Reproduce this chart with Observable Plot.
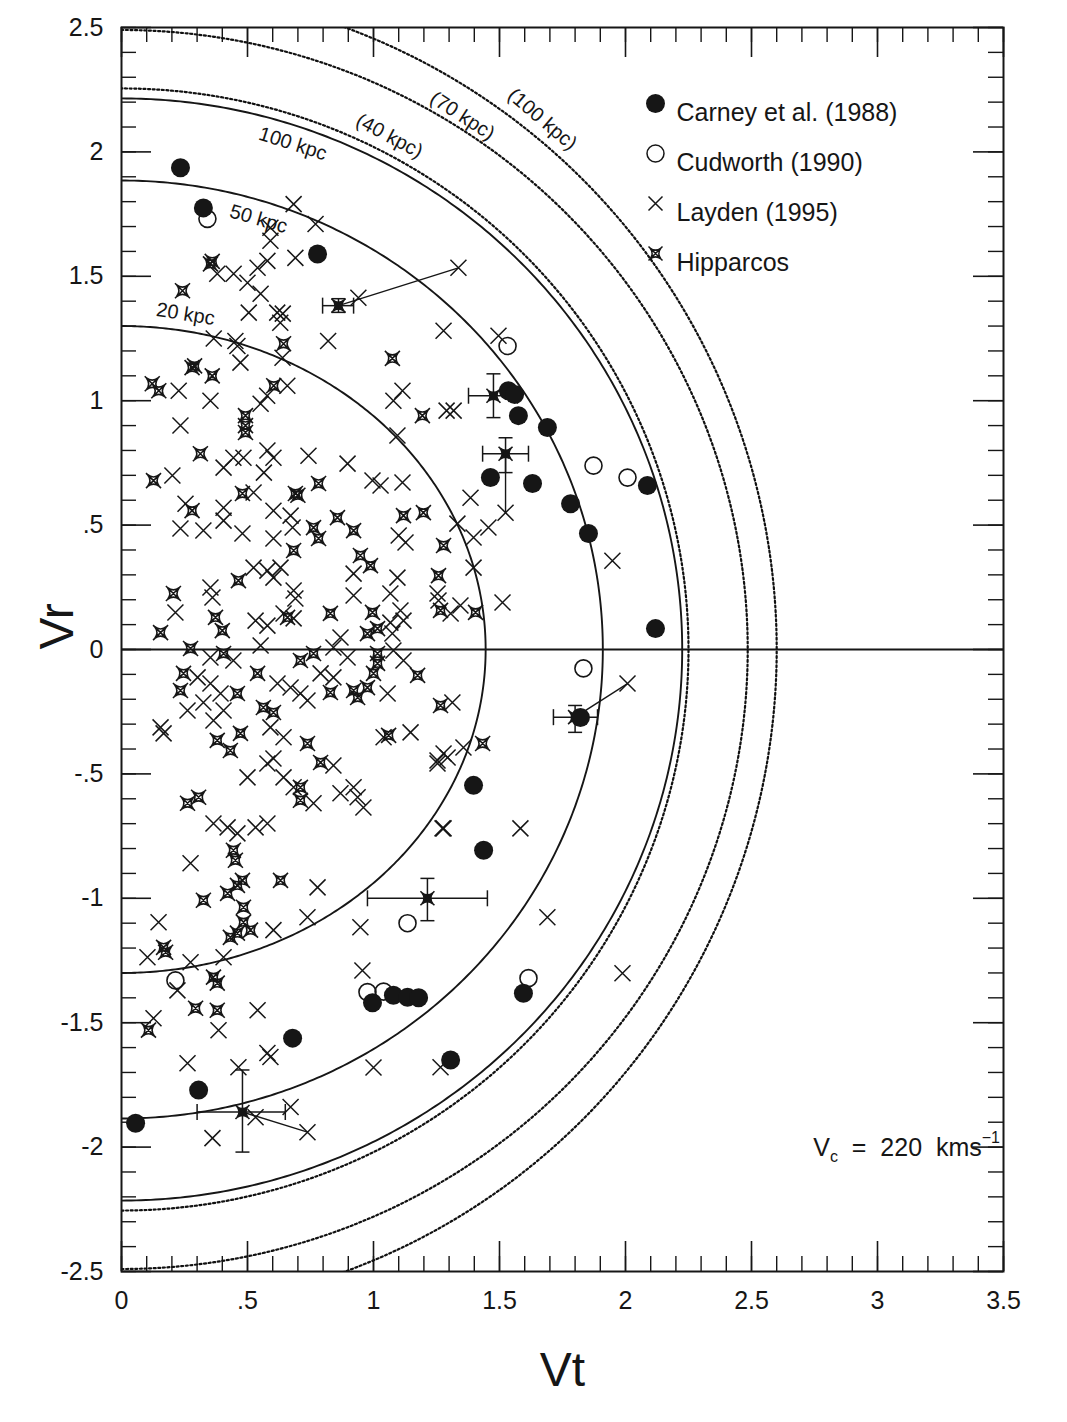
<!DOCTYPE html>
<html><head><meta charset="utf-8">
<script src="https://cdn.jsdelivr.net/npm/d3@7"></script>
<script src="https://cdn.jsdelivr.net/npm/@observablehq/plot@0.6"></script>
<style>
body{margin:0;background:#fff;}
#chart{width:1067px;height:1422px;}
#chart svg{display:block;}
</style></head><body><div id="chart"></div>
<script>
// ---------- data (Vt, Vr) ----------
const carney = [[0.234,1.936],[0.325,1.775],[0.778,1.59],[1.535,1.04],[1.56,1.025],[1.575,0.94],[1.69,0.892],[1.464,0.691],[1.631,0.667],[1.782,0.586],[1.853,0.466],[2.087,0.659],[2.119,0.084],[1.821,-0.273],[1.397,-0.546],[1.437,-0.807],[0.996,-1.42],[1.079,-1.39],[1.135,-1.398],[1.179,-1.40],[1.595,-1.382],[1.306,-1.65],[0.679,-1.562],[0.306,-1.771],[0.056,-1.904]];
const cudworth = [[0.341,1.731],[1.532,1.22],[1.873,0.739],[2.008,0.691],[1.833,-0.076],[1.135,-1.10],[0.214,-1.33],[0.976,-1.377],[1.04,-1.375],[1.615,-1.321]];
const layden = [[0.683,1.79],[0.77,1.71],[0.591,1.695],[0.591,1.643],[0.579,1.562],[0.54,1.534],[0.69,1.574],[0.38,1.51],[0.445,1.51],[0.5,1.474],[0.552,1.43],[0.505,1.354],[0.618,1.354],[0.64,1.35],[0.63,1.313],[0.94,1.414],[1.337,1.534],[1.278,1.281],[0.82,1.24],[0.366,1.25],[0.452,1.24],
[0.46,1.22],[0.472,1.153],[0.639,1.173],[0.227,1.04],[0.353,1.0],[0.234,0.9],[0.658,1.06],[0.578,1.02],[0.552,0.988],[1.079,1.0],[1.115,1.04],[1.29,0.96],[1.095,0.86],[0.405,0.731],[0.444,0.771],[0.484,0.771],[0.579,0.8],[0.603,0.771],[0.565,0.711],[0.742,0.779],[0.897,0.747],[0.202,0.699],[0.996,0.679],[1.028,0.659],[1.115,0.671],[0.524,0.631],[0.254,0.586],[0.234,0.486],[0.325,0.478],[0.405,0.57],[0.405,0.518],[0.48,0.466],[0.603,0.558],[0.603,0.446],[0.671,0.538],[0.679,0.49],[1.1,0.458],[1.127,0.43],[0.921,0.305],[1.095,0.289],[0.524,0.329],[0.579,0.317],[0.631,0.329],[0.603,0.289],[0.683,0.237],[0.69,0.205],[0.214,0.149],[0.353,0.249],[0.361,0.209],[0.532,0.116],[0.579,0.096],[0.643,0.145],[0.683,0.125],[0.869,0.048],[0.921,0.217],[1.067,0.225],[1.107,0.157],[1.067,0.108],[1.119,0.116],[1.254,0.225],[1.075,0.064],
[0.552,0.016],[0.353,-0.032],[0.444,-0.044],[0.841,0.008],[0.897,-0.032],[1.079,-0.004],[1.119,-0.044],[0.302,-0.112],[0.353,-0.137],[0.262,-0.245],[0.325,-0.213],[0.393,-0.177],[0.405,-0.245],[0.365,-0.285],[0.619,-0.137],[0.671,-0.153],[0.71,-0.177],[0.738,-0.205],[1.056,-0.177],[0.79,-0.096],[0.841,-0.112],[0.591,-0.313],[0.643,-0.353],[0.155,-0.313],[0.167,-0.337],[0.5,-0.514],[0.579,-0.458],[0.603,-0.438],[0.643,-0.514],[0.683,-0.554],[0.762,-0.618],[0.841,-0.466],[0.869,-0.578],[0.921,-0.554],[0.937,-0.594],[0.96,-0.635],[1.04,-0.353],[1.147,-0.333],[1.254,-0.458],[1.278,-0.418],[1.278,-0.719],[0.365,-0.699],[0.421,-0.715],[0.46,-0.739],[0.532,-0.715],[0.579,-0.699],[0.274,-0.859],[0.778,-0.956],[0.603,-1.128],[0.738,-1.076],[0.948,-1.116],[0.147,-1.096],[0.103,-1.237],[0.274,-1.257],[0.405,-1.237],[0.956,-1.29],
[0.222,-1.37],[0.54,-1.45],[0.127,-1.482],[0.385,-1.53],[0.579,-1.622],[0.591,-1.638],[0.262,-1.663],[0.464,-1.679],[0.738,-1.94],[0.671,-1.839],[0.532,-1.88],[0.361,-1.964],[1.0,-1.68],[1.266,-1.679],
[1.496,1.261],[1.318,0.96],[1.385,0.61],[1.333,0.506],[1.397,0.45],[1.456,0.49],[1.524,0.55],[1.397,0.329],[1.512,0.189],[1.258,0.197],[1.306,0.145],[1.345,0.177],[1.948,0.357],[2.008,-0.137],[1.254,-0.446],[1.294,-0.434],[1.357,-0.394],[1.274,-0.719],[1.583,-0.719],[1.69,-1.076],[1.988,-1.301],[1.313,-0.213]];
const hipparcos = [[0.353,1.55],[0.36,1.56],[0.242,1.442],[1.075,1.17],[0.643,1.229],[0.28,1.133],[0.29,1.14],[0.36,1.10],[0.122,1.068],[0.148,1.04],[0.604,1.06],[0.492,0.94],[0.492,0.90],[0.492,0.872],[1.194,0.94],[0.313,0.787],[0.127,0.679],[0.69,0.627],[0.70,0.62],[0.782,0.667],[0.48,0.627],[0.28,0.558],[0.762,0.49],[0.782,0.446],[0.857,0.53],[0.921,0.478],[1.119,0.538],[1.198,0.55],[1.278,0.418],[0.683,0.398],[0.948,0.378],[0.988,0.337],[1.258,0.297],[0.464,0.277],[0.206,0.225],[0.155,0.068],[0.373,0.129],[0.4,0.076],[0.659,0.129],[0.829,0.145],[0.996,0.149],[1.266,0.157],[0.976,0.064],[1.016,0.084],[1.405,0.149],
[0.274,0.004],[0.405,-0.016],[0.762,-0.016],[0.71,-0.044],[1.016,-0.016],[1.016,-0.056],[1.0,-0.096],[1.175,-0.104],[0.246,-0.096],[0.234,-0.165],[0.46,-0.177],[0.54,-0.096],[0.829,-0.173],[0.921,-0.165],[0.937,-0.193],[0.976,-0.153],[1.266,-0.225],[0.563,-0.233],[0.603,-0.253],[0.38,-0.365],[0.432,-0.406],[0.472,-0.337],[0.71,-0.554],[0.71,-0.606],[0.738,-0.378],[0.79,-0.454],[1.06,-0.345],[0.306,-0.594],[0.262,-0.618],[0.444,-0.807],[0.452,-0.847],[0.631,-0.928],[0.421,-0.98],[0.46,-0.948],[0.48,-0.928],[0.325,-1.008],[0.484,-1.036],[0.484,-1.096],[0.46,-1.14],[0.432,-1.157],[0.512,-1.128],[0.167,-1.197],[0.175,-1.217],[0.365,-1.317],[0.38,-1.341],[0.294,-1.442],[0.38,-1.45],[0.107,-1.53],[1.433,-0.378]];
// Hipparcos stars with error bars: [Vt, Vr, VtLo, VtHi, VrLo, VrHi]
const hipErr = [[0.861,1.382,0.798,0.921,1.355,1.41],[1.476,1.02,1.377,1.571,0.932,1.108],[1.524,0.787,1.433,1.615,0.711,0.851],[1.80,-0.272,1.714,1.889,-0.333,-0.225],[1.214,-1.0,0.976,1.452,-1.09,-0.92],[0.48,-1.859,0.30,0.65,-2.02,-1.69]];
// Hipparcos -> Layden connecting lines: [Vt1, Vr1, Vt2, Vr2]
const hipLinks = [[0.861,1.382,1.337,1.534],[1.524,0.787,1.524,0.55],[1.80,-0.272,2.008,-0.137],[0.48,-1.859,0.738,-1.94]];
// bound curves: semi-axes along Vt (a) and Vr (b)
const curveNames = ["20 kpc","50 kpc","100 kpc","(40 kpc)","(70 kpc)","(100 kpc)"];
const curveA = [1.445,1.91,2.225,2.25,2.485,2.60];
const curveB = [1.30,1.885,2.215,2.255,2.49,2.66];
const labelVt = [0.254,0.544,0.68,1.063,1.353,1.67];
const labelOffsetPx = [17,-19,-19,19,14,23];
// axes
const xTicks = [0,0.5,1,1.5,2,2.5,3,3.5];
const xTickLabels = ["0",".5","1","1.5","2","2.5","3","3.5"];
const yTicks = [2.5,2,1.5,1,0.5,0,-0.5,-1,-1.5,-2,-2.5];
const yTickLabels = ["2.5","2","1.5","1",".5","0","-.5","-1","-1.5","-2","-2.5"];
const legendNames = ["Carney et al. (1988)","Cudworth (1990)","Layden (1995)","Hipparcos"];

// ---------- layout ----------
const W = 1067, H = 1422, mL = 121, mR = 64, mT = 27, mB = 151;
const plotW = W - mL - mR, plotH = H - mT - mB;
const kx = plotW / 3.5, ky = plotH / 5;
const ink = "#161616";

const xMinor = d3.range(0, 36).map(i => i / 10);
const yMinor = d3.range(-25, 26).map(i => i / 10);

function curvePts(i) {
  return d3.range(0, 361).map(k => {
    const th = (k / 360 - 0.5) * Math.PI;
    return {name: curveNames[i], vt: curveA[i] * Math.cos(th), vr: curveB[i] * Math.sin(th)};
  });
}
const solidPts = [0,1,2].flatMap(curvePts);
const dottedPts = [3,4,5].flatMap(curvePts);
const labels = curveNames.map((n, i) => {
  const a = curveA[i], b = curveB[i], t = labelVt[i];
  const s = Math.sqrt(1 - (t / a) ** 2);
  const vr = b * s + labelOffsetPx[i] / ky;
  const ang = Math.atan((ky / kx) * b * t / (a * a * s)) * 180 / Math.PI;
  return {name: n, vt: t, vr, ang};
});

// ---------- symbols ----------
const xSym = {draw(c, size) { const r = Math.sqrt(size / Math.PI);
  c.moveTo(-r,-r); c.lineTo(r,r); c.moveTo(-r,r); c.lineTo(r,-r); }};
const hipSym = {draw(c, size) { const r = Math.sqrt(size / Math.PI);
  const s = r, q = r * 0.78, k = r * 0.18;
  c.moveTo(-s,-s); c.lineTo(s,s); c.moveTo(-s,s); c.lineTo(s,-s);
  c.moveTo(-q,-q); c.quadraticCurveTo(0,-k,q,-q); c.quadraticCurveTo(k,0,q,q);
  c.quadraticCurveTo(0,k,-q,q); c.quadraticCurveTo(-k,0,-q,-q); c.closePath(); }};
const vCap = {draw(c, size) { const r = Math.sqrt(size / Math.PI); c.moveTo(0,-r); c.lineTo(0,r); }};
const hCap = {draw(c, size) { const r = Math.sqrt(size / Math.PI); c.moveTo(-r,0); c.lineTo(r,0); }};

const xLab = new Map(xTicks.map((v,i)=>[v, xTickLabels[i]]));
const yLab = new Map(yTicks.map((v,i)=>[v, yTickLabels[i]]));

const legendSyms = [
  {r:9.5, fill: ink, stroke: "none", symbol: "circle"},
  {r:8.5, fill: "none", stroke: ink, strokeWidth: 1.5, symbol: "circle"},
  {r:7, fill: "none", stroke: ink, strokeWidth: 1.5, symbol: xSym},
  {r:7, fill: "none", stroke: ink, strokeWidth: 1.5, symbol: hipSym}
];

const marks = [
  // ticks (inward, all four sides)
  Plot.tickX(xMinor, {x: d=>d, insetTop: plotH-15, stroke: ink, strokeWidth: 1.4}),
  Plot.tickX(xMinor, {x: d=>d, insetBottom: plotH-15, stroke: ink, strokeWidth: 1.4}),
  Plot.tickX(xTicks, {x: d=>d, insetTop: plotH-30, stroke: ink, strokeWidth: 1.6}),
  Plot.tickX(xTicks, {x: d=>d, insetBottom: plotH-30, stroke: ink, strokeWidth: 1.6}),
  Plot.tickY(yMinor, {y: d=>d, insetRight: plotW-15, stroke: ink, strokeWidth: 1.4}),
  Plot.tickY(yMinor, {y: d=>d, insetLeft: plotW-15, stroke: ink, strokeWidth: 1.4}),
  Plot.tickY(yTicks, {y: d=>d, insetRight: plotW-30, stroke: ink, strokeWidth: 1.6}),
  Plot.tickY(yTicks, {y: d=>d, insetLeft: plotW-30, stroke: ink, strokeWidth: 1.6}),
  Plot.axisX(xTicks, {tickSize: 0, tickPadding: 20, fontSize: 25, tickFormat: d => xLab.get(d), label: null, fill: ink}),
  Plot.axisY(yTicks, {tickSize: 0, tickPadding: 18, fontSize: 25, tickFormat: d => yLab.get(d), label: null, fill: ink}),
  Plot.text(["Vt"], {frameAnchor: "bottom", dy: 114, fontSize: 48, text: d=>d, fill: ink}),
  Plot.text(["Vr"], {frameAnchor: "left", dx: -64, rotate: -90, fontSize: 48, text: d=>d, fill: ink}),
  // curves
  Plot.line(solidPts, {x: "vt", y: "vr", z: "name", stroke: ink, strokeWidth: 1.9, clip: true}),
  Plot.line(dottedPts, {x: "vt", y: "vr", z: "name", stroke: "#111", strokeWidth: 2.2, strokeDasharray: "2,2.6", clip: true}),
  Plot.ruleY([0], {stroke: ink, strokeWidth: 1.9}),
  Plot.text(labels, {x: "vt", y: "vr", text: "name", rotate: "ang", fontSize: 20, fill: ink}),
  // data
  Plot.link(hipLinks, {x1: d=>d[0], y1: d=>d[1], x2: d=>d[2], y2: d=>d[3], stroke: ink, strokeWidth: 1.4}),
  Plot.dot(layden, {x: d=>d[0], y: d=>d[1], r: 8, symbol: xSym, fill: "none", stroke: ink, strokeWidth: 1.5}),
  Plot.dot(hipparcos, {x: d=>d[0], y: d=>d[1], r: 7.5, symbol: hipSym, fill: "none", stroke: ink, strokeWidth: 1.6}),
  Plot.link(hipErr, {x1: d=>d[2], x2: d=>d[3], y1: d=>d[1], y2: d=>d[1], stroke: ink, strokeWidth: 1.5}),
  Plot.link(hipErr, {x1: d=>d[0], x2: d=>d[0], y1: d=>d[4], y2: d=>d[5], stroke: ink, strokeWidth: 1.5}),
  Plot.dot(hipErr.flatMap(d => [[d[2], d[1]], [d[3], d[1]]]), {x: d=>d[0], y: d=>d[1], r: 8, symbol: vCap, fill: "none", stroke: ink, strokeWidth: 1.5}),
  Plot.dot(hipErr.flatMap(d => [[d[0], d[4]], [d[0], d[5]]]), {x: d=>d[0], y: d=>d[1], r: 7, symbol: hCap, fill: "none", stroke: ink, strokeWidth: 1.5}),
  Plot.dot(hipErr, {x: d=>d[0], y: d=>d[1], r: 7, symbol: hipSym, fill: ink, stroke: ink, strokeWidth: 1.6}),
  Plot.dot(cudworth, {x: d=>d[0], y: d=>d[1], r: 8.5, fill: "none", stroke: ink, strokeWidth: 1.6}),
  Plot.dot(carney, {x: d=>d[0], y: d=>d[1], r: 9.5, fill: ink, stroke: "none"}),
  Plot.frame({stroke: ink, strokeWidth: 2})
];
legendNames.forEach((name, i) => {
  const s = legendSyms[i];
  marks.push(Plot.dot([name], {frameAnchor: "top-left", dx: 534, dy: 76 + 50 * i, ...s}));
  marks.push(Plot.text([name], {frameAnchor: "top-left", dx: 555, dy: 76 + 50 * i, text: d=>d, textAnchor: "start", fontSize: 25, fill: ink}));
});

const chart = Plot.plot({
  width: W, height: H,
  marginLeft: mL, marginRight: mR, marginTop: mT, marginBottom: mB,
  x: {domain: [0, 3.5]},
  y: {domain: [-2.5, 2.5]},
  style: {fontFamily: "'Liberation Sans', Arial, Helvetica, sans-serif", background: "#fff", color: ink},
  marks
});
document.getElementById("chart").appendChild(chart);

// V_c annotation with subscript / superscript
const xs = chart.scale("x"), ys = chart.scale("y");
const t = d3.select(chart).append("text")
  .attr("x", xs.apply(3.5) - 3).attr("y", ys.apply(-2.0) + 9)
  .attr("text-anchor", "end").attr("font-size", 25).attr("fill", ink)
  .attr("font-family", "'Liberation Sans', Arial, sans-serif");
t.append("tspan").text("V");
t.append("tspan").attr("dy", 6).attr("font-size", 16).text("c");
t.append("tspan").attr("dy", -6).attr("xml:space", "preserve").text("  =  220  kms");
t.append("tspan").attr("dy", -13).attr("font-size", 16).text("−1");
</script>
</body></html>
